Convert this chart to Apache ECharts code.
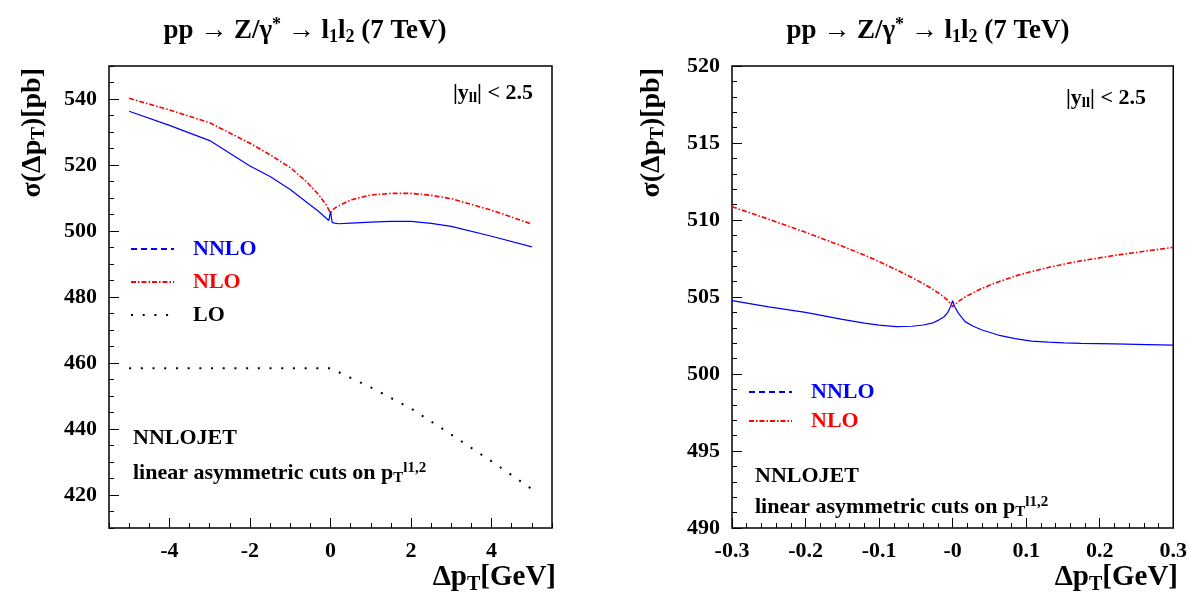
<!DOCTYPE html>
<html>
<head>
<meta charset="utf-8">
<title>pp -> Z/gamma* -> l1 l2 (7 TeV)</title>
<script src="https://cdn.jsdelivr.net/npm/echarts@6/dist/echarts.min.js"></script>
<style>
  html, body { margin: 0; padding: 0; background: #fff; }
  #chart { width: 1190px; height: 597px; }
</style>
</head>
<body>
<div id="chart"></div>
<script>
// left panel, full delta pT range
const leftX = [-5, -4, -3, -2, -1.5, -1, -0.6, -0.3, -0.1, -0.04, 0, 0.04, 0.1, 0.2, 0.5, 1, 1.5, 2, 2.5, 3, 4, 5]
const leftNNLO = [536.3, 532.0, 527.4, 519.7, 516.5, 512.6, 508.8, 506.0, 503.8, 503.2, 506.0, 502.6, 502.4, 502.2, 502.4, 502.7, 502.9, 502.9, 502.3, 501.4, 498.4, 495.2]
const leftNLO = [540.2, 536.7, 532.8, 526.6, 523.1, 519.2, 515.0, 511.1, 507.8, 506.3, 505.5, 506.2, 506.9, 507.6, 509.4, 510.9, 511.4, 511.4, 510.8, 509.8, 506.3, 502.1]
const leftLOX = [-5, 0, 1, 2, 3, 4, 5]
const leftLO = [458.4, 458.4, 452.6, 446.2, 438.3, 430.2, 421.8]
const leftXTicks = [-4, -2, 0, 2, 4]
const leftYTicks = [420, 440, 460, 480, 500, 520, 540]

// right panel, zoom around delta pT = 0
const rightX = [-0.3, -0.25, -0.2, -0.15, -0.12, -0.1, -0.077, -0.055, -0.04, -0.028, -0.019, -0.012, -0.007, -0.003, 0,
  0.003, 0.008, 0.017, 0.028, 0.04, 0.062, 0.085, 0.107, 0.13, 0.152, 0.175, 0.22, 0.265, 0.3]
const rightNNLO = [504.76, 504.36, 504.0, 503.55, 503.3, 503.17, 503.07, 503.1, 503.18, 503.3, 503.5, 503.7, 503.97, 504.35, 504.76,
  504.35, 503.94, 503.4, 503.1, 502.86, 502.53, 502.3, 502.14, 502.07, 502.02, 501.99, 501.95, 501.91, 501.87]
const rightNLO = [510.86, 510.05, 509.2, 508.3, 507.72, 507.3, 506.78, 506.25, 505.87, 505.53, 505.25, 505.0, 504.8, 504.58, 504.37,
  504.5, 504.72, 505.0, 505.28, 505.56, 505.98, 506.36, 506.65, 506.92, 507.14, 507.35, 507.7, 508.0, 508.22]
const rightXTicks = [-0.3, -0.2, -0.1, 0, 0.1, 0.2, 0.3]
const rightXLabels = ['-0.3', '-0.2', '-0.1', '-0', '0.1', '0.2', '0.3']
const rightYTicks = [490, 495, 500, 505, 510, 515, 520]

const FONT = 'Liberation Serif'
const BLUE = '#0000ff'
const RED = '#ff0000'

const pairs = (xs, ys) => xs.map((x, i) => [x, ys[i]])
const tickFont = { fontFamily: FONT, fontWeight: 'bold', fontSize: 22, color: '#000' }

// axis carrying the minor ticks and the labels
function minorAxis(dim, gridIndex, min, max, step, labels, fmt) {
  return {
    type: 'value', gridIndex, min, max, interval: step,
    position: dim === 'x' ? 'bottom' : 'left',
    axisLine: { show: false, onZero: false },
    splitLine: { show: false },
    axisTick: { inside: true, length: 5, lineStyle: { color: '#000', width: 1 } },
    axisLabel: { customValues: labels, formatter: fmt, margin: 12, ...tickFont }
  }
}
// overlay axis for the longer major ticks
function majorAxis(dim, gridIndex, min, max, ticks) {
  return {
    type: 'value', gridIndex, min, max,
    position: dim === 'x' ? 'bottom' : 'left',
    axisLine: { show: false, onZero: false },
    splitLine: { show: false },
    axisTick: { inside: true, length: 10, customValues: ticks, lineStyle: { color: '#000', width: 1 } },
    axisLabel: { show: false }
  }
}

function rich(size) {
  const small = Math.round(size * 0.68)
  const shift = Math.round(size * 0.45)
  return {
    sub: { fontFamily: FONT, fontWeight: 'bold', fontSize: small, padding: [shift, 0, 0, 0] },
    sup: { fontFamily: FONT, fontWeight: 'bold', fontSize: small, padding: [0, 0, shift, 0] }
  }
}
function label(text, x, y, size, align, extra) {
  return Object.assign({
    type: 'text', x, y, z: 10,
    style: {
      text, rich: rich(size), align: align || 'left', verticalAlign: 'middle',
      fontFamily: FONT, fontWeight: 'bold', fontSize: size, fill: '#000'
    }
  }, extra || {})
}

const title = 'pp → Z/γ{sup|*} → l{sub|1}l{sub|2} (7 TeV)'
const yName = 'σ(Δp{sub|T})[pb]'
const xName = 'Δp{sub|T}[GeV]'
const cut = '|y{sub|ll}| < 2.5'
const note = 'linear asymmetric cuts on p{sub|T}{sup|l1,2}'

const legendText = { fontFamily: FONT, fontWeight: 'bold', fontSize: 22, lineHeight: 22, padding: [0, 0, 0, 14] }

const chart = echarts.init(document.getElementById('chart'))
chart.setOption({
  animation: false,
  backgroundColor: '#fff',
  grid: [
    { left: 109, top: 66, width: 443, height: 462, show: true, borderColor: '#000', borderWidth: 1.5 },
    { left: 732, top: 66, width: 444, height: 462, show: true, borderColor: '#000', borderWidth: 1.5 }
  ],
  xAxis: [
    minorAxis('x', 0, -5.5, 5.5, 0.5, leftXTicks, v => String(v)),
    majorAxis('x', 0, -5.5, 5.5, leftXTicks),
    minorAxis('x', 1, -0.3, 0.3, 0.02, rightXTicks, v => rightXLabels[rightXTicks.findIndex(t => Math.abs(t - v) < 1e-6)]),
    majorAxis('x', 1, -0.3, 0.3, rightXTicks)
  ],
  yAxis: [
    minorAxis('y', 0, 410, 550, 5, leftYTicks, v => String(v)),
    majorAxis('y', 0, 410, 550, leftYTicks),
    minorAxis('y', 1, 490, 520, 1, rightYTicks, v => String(v)),
    majorAxis('y', 1, 490, 520, rightYTicks)
  ],
  legend: [
    {
      orient: 'vertical', left: 125, top: 233, itemWidth: 43, itemHeight: 12, itemGap: 11,
      selectedMode: false, itemStyle: { opacity: 0 }, textStyle: legendText,
      data: [
        { name: 'NNLO', lineStyle: { type: [6, 4] }, textStyle: { color: BLUE } },
        { name: 'NLO', textStyle: { color: RED } },
        { name: 'LO', textStyle: { color: '#000' } }
      ]
    },
    {
      orient: 'vertical', left: 743, top: 376, itemWidth: 43, itemHeight: 12, itemGap: 7,
      selectedMode: false, itemStyle: { opacity: 0 }, textStyle: legendText,
      data: [
        { name: 'NNLO', lineStyle: { type: [6, 4] }, textStyle: { color: BLUE } },
        { name: 'NLO', textStyle: { color: RED } }
      ]
    }
  ],
  series: [
    {
      name: 'NNLO', type: 'line', xAxisIndex: 0, yAxisIndex: 0, symbol: 'none',
      data: pairs(leftX, leftNNLO), lineStyle: { color: BLUE, width: 1.2 }, itemStyle: { color: BLUE }
    },
    {
      name: 'NLO', type: 'line', xAxisIndex: 0, yAxisIndex: 0, symbol: 'none',
      data: pairs(leftX, leftNLO), lineStyle: { color: RED, width: 1.6, type: [5, 2, 1.5, 2] }, itemStyle: { color: RED }
    },
    {
      name: 'LO', type: 'line', xAxisIndex: 0, yAxisIndex: 0, symbol: 'none',
      data: pairs(leftLOX, leftLO), lineStyle: { color: '#000', width: 2, type: [2, 9.7] }, itemStyle: { color: '#000' }
    },
    {
      name: 'NNLO', type: 'line', xAxisIndex: 2, yAxisIndex: 2, symbol: 'none',
      data: pairs(rightX, rightNNLO), lineStyle: { color: BLUE, width: 1.2 }, itemStyle: { color: BLUE }
    },
    {
      name: 'NLO', type: 'line', xAxisIndex: 2, yAxisIndex: 2, symbol: 'none',
      data: pairs(rightX, rightNLO), lineStyle: { color: RED, width: 1.6, type: [5, 2, 1.5, 2] }, itemStyle: { color: RED }
    }
  ],
  graphic: [
    label(title, 305, 31, 27, 'center'),
    label(title, 928, 31, 27, 'center'),
    label(yName, 33, 68, 28, 'right', { rotation: Math.PI / 2 }),
    label(yName, 652, 68, 28, 'right', { rotation: Math.PI / 2 }),
    label(xName, 556, 578, 29, 'right'),
    label(xName, 1178, 578, 29, 'right'),
    label(cut, 533, 93, 22, 'right'),
    label(cut, 1146, 98, 22, 'right'),
    label('NNLOJET', 133, 438, 22, 'left'),
    label('NNLOJET', 755, 476, 22, 'left'),
    label(note, 133, 473, 22, 'left'),
    label(note, 755, 507, 22, 'left')
  ]
})
</script>
</body>
</html>
